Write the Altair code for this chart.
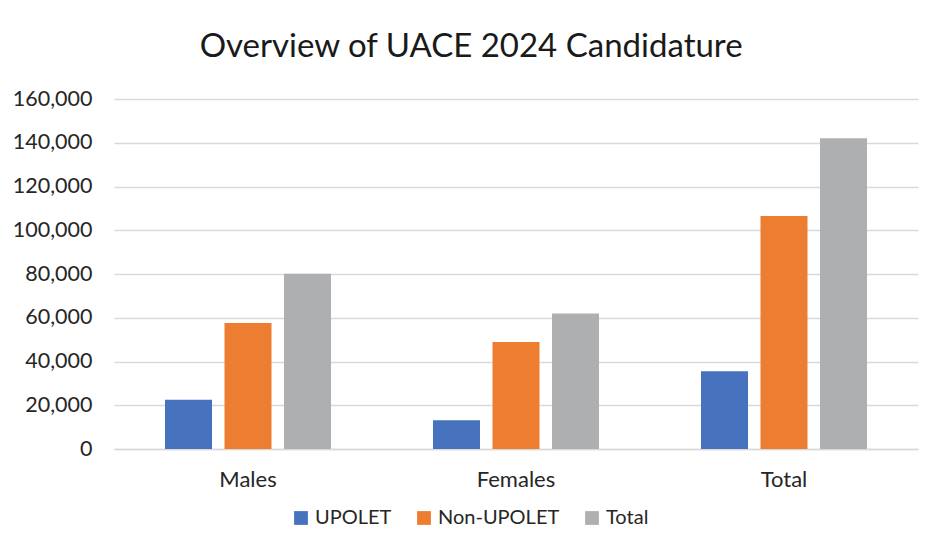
"""Overview of UACE 2024 candidature, grouped bars."""

import altair as alt
import pandas as pd

groups = ["Males", "Females", "Total"]
series = ["UPOLET", "Non-UPOLET", "Total"]
upolet = [22500, 13100, 35600]
non_upolet = [57600, 48900, 106500]
total = [80100, 62000, 142100]
colors = ["#4672BE", "#ED7D31", "#AEAFB1"]

rows = []
for i, g in enumerate(groups):
    for s, vals in zip(series, [upolet, non_upolet, total]):
        rows.append({"group": g, "series": s, "value": vals[i]})
df = pd.DataFrame(rows)

FONT = "Lato"

chart = (
    alt.Chart(df)
    .mark_bar()
    .encode(
        x=alt.X(
            "group:N",
            sort=groups,
            title=None,
            scale=alt.Scale(paddingInner=0, paddingOuter=0),
            axis=alt.Axis(
                labelAngle=0,
                labelPadding=20,
                labelFontSize=22,
                labelColor="#262626",
                ticks=False,
                domainColor="#d9d9d9",
                domainWidth=1.5,
            ),
        ),
        xOffset=alt.XOffset(
            "series:N",
            sort=series,
            scale=alt.Scale(paddingInner=0.21, paddingOuter=0.857),
        ),
        y=alt.Y(
            "value:Q",
            title=None,
            scale=alt.Scale(domain=[0, 160000]),
            axis=alt.Axis(
                values=list(range(0, 160001, 20000)),
                format=",d",
                labelPadding=22,
                labelFontSize=21.5,
                labelColor="#262626",
                ticks=False,
                domain=False,
                gridColor="#d9d9d9",
                gridWidth=1.5,
            ),
        ),
        color=alt.Color(
            "series:N",
            sort=series,
            title=None,
            scale=alt.Scale(domain=series, range=colors),
            legend=alt.Legend(
                orient="none",
                direction="horizontal",
                legendX=177,
                legendY=409,
                symbolType="square",
                symbolSize=190,
                symbolStrokeWidth=0,
                labelFontSize=20,
                labelColor="#262626",
                labelOffset=4,
                columnPadding=22,
            ),
        ),
    )
    .properties(
        width=804,
        height=350,
        autosize=alt.AutoSizeParams(type="none"),
        padding={"left": 106, "top": 91, "right": 18, "bottom": 88},
        title=alt.TitleParams(
            "Overview of UACE 2024 Candidature",
            fontSize=33,
            fontWeight="normal",
            color="#1a1a1a",
            anchor="middle",
            frame="bounds",
            offset=24,
            dx=6,
        ),
    )
    .configure(font=FONT)
    .configure_view(stroke=None)
)

chart.save("out.html", embed_options={"renderer": "svg", "actions": False})
